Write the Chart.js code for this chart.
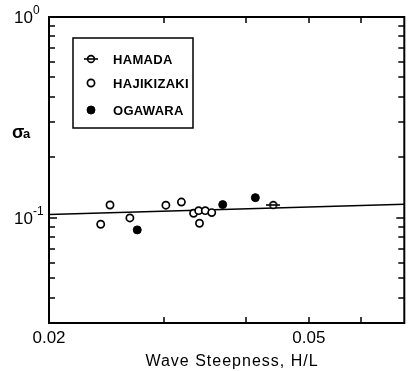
<!DOCTYPE html>
<html>
<head>
<meta charset="utf-8">
<script src="https://cdn.jsdelivr.net/npm/chart.js@4"></script>
<style>
  html, body { margin: 0; padding: 0; background: #fff; }
  canvas { display: block; }
</style>
</head>
<body>
<canvas id="steepness" width="410" height="371"></canvas>
<script>
// H/L and sigma_a for each site
const hamadaX = [0.0441];
const hamadaY = [0.116];
const hajikizakiX = [0.0248, 0.0240, 0.0266, 0.0302, 0.0319, 0.0333, 0.0339, 0.0347, 0.0355, 0.0340];
const hajikizakiY = [0.116, 0.093, 0.100, 0.1157, 0.120, 0.1055, 0.1087, 0.1087, 0.1063, 0.0941];
const ogawaraX = [0.0273, 0.0369, 0.0414];
const ogawaraY = [0.0872, 0.1165, 0.1262];

// fitted line, end points
const fitX = [0.02, 0.07];
const fitY = [0.104, 0.117];

// axis ticks
const xTicks = [0.03, 0.04, 0.05, 0.06];
const xLabels = [0.02, 0.05];
const yMajor = [1, 0.1];
const yMinor = [0.9, 0.8, 0.7, 0.6, 0.5, 0.4, 0.3, 0.2, 0.09, 0.08, 0.07, 0.06, 0.05, 0.04];

const FONT = '"Liberation Sans", Arial, sans-serif';

function pts(xs, ys) {
  return xs.map((x, i) => ({ x: x, y: ys[i] }));
}

// circle with a bar through it
function barCircle() {
  const c = document.createElement('canvas');
  c.width = 14; c.height = 10;
  const g = c.getContext('2d');
  g.strokeStyle = '#000';
  g.lineWidth = 1.6;
  g.beginPath();
  g.moveTo(0, 5); g.lineTo(14, 5);
  g.stroke();
  g.fillStyle = '#fff';
  g.beginPath();
  g.arc(7, 5, 3.4, 0, Math.PI * 2);
  g.fill();
  g.stroke();
  g.beginPath();
  g.moveTo(3, 5); g.lineTo(11, 5);
  g.stroke();
  return c;
}

const hamadaStyle = { pointStyle: barCircle(), radius: 4, borderWidth: 0, rotation: 0 };
const hajiStyle = { pointStyle: 'circle', radius: 3.6, borderWidth: 1.7, rotation: 0 };
const ogaStyle = { pointStyle: 'circle', radius: 4, borderWidth: 1, rotation: 0 };

const legendRows = [
  { text: 'HAMADA', style: hamadaStyle, fill: '#fff', y: 59 },
  { text: 'HAJIKIZAKI', style: hajiStyle, fill: '#fff', y: 83 },
  { text: 'OGAWARA', style: ogaStyle, fill: '#000', y: 110 }
];

const frame = {
  id: 'frame',
  afterDraw(chart) {
    const ctx = chart.ctx;
    const a = chart.chartArea;
    const xs = chart.scales.x, ys = chart.scales.y;
    ctx.save();
    ctx.strokeStyle = '#000';
    ctx.lineWidth = 2;
    ctx.strokeRect(a.left, a.top, a.right - a.left, a.bottom - a.top);

    // inward ticks on all four sides
    ctx.lineWidth = 1.5;
    ctx.beginPath();
    xTicks.forEach(v => {
      const px = Math.round(xs.getPixelForValue(v));
      ctx.moveTo(px, a.bottom); ctx.lineTo(px, a.bottom - 6);
      ctx.moveTo(px, a.top); ctx.lineTo(px, a.top + 6);
    });
    yMinor.forEach(v => {
      const py = Math.round(ys.getPixelForValue(v));
      ctx.moveTo(a.left, py); ctx.lineTo(a.left + 6, py);
      ctx.moveTo(a.right, py); ctx.lineTo(a.right - 6, py);
    });
    yMajor.forEach(v => {
      const py = Math.round(ys.getPixelForValue(v));
      ctx.moveTo(a.left, py); ctx.lineTo(a.left + 8, py);
      ctx.moveTo(a.right, py); ctx.lineTo(a.right - 8, py);
    });
    ctx.stroke();

    // tick labels
    ctx.fillStyle = '#000';
    ctx.font = '17px ' + FONT;
    ctx.textAlign = 'center';
    ctx.textBaseline = 'alphabetic';
    xLabels.forEach(v => {
      ctx.fillText(String(v), xs.getPixelForValue(v), 343);
    });
    yMajor.forEach(v => {
      const py = ys.getPixelForValue(v);
      const exp = Math.round(Math.log10(v));
      ctx.textAlign = 'left';
      ctx.font = '17px ' + FONT;
      ctx.fillText('10', 14, py + 6);
      ctx.font = '12px ' + FONT;
      ctx.fillText(String(exp), 33, py - 3);
    });

    // axis titles
    ctx.textAlign = 'center';
    ctx.font = '16px ' + FONT;
    ctx.letterSpacing = '1px';
    ctx.fillText('Wave Steepness, H/L', 232, 366);
    ctx.letterSpacing = '0px';
    ctx.textAlign = 'left';
    ctx.font = 'bold 18px ' + FONT;
    ctx.fillText('σ', 12, 138);
    ctx.font = 'bold 13px ' + FONT;
    ctx.fillText('a', 23, 138);

    // legend
    ctx.fillStyle = '#fff';
    ctx.fillRect(73, 38, 120, 90);
    ctx.lineWidth = 1.5;
    ctx.strokeRect(73, 38, 120, 90);
    legendRows.forEach(r => {
      ctx.fillStyle = r.fill;
      ctx.strokeStyle = '#000';
      ctx.lineWidth = r.style.borderWidth;
      Chart.helpers.drawPoint(ctx, r.style, 91, r.y);
      ctx.fillStyle = '#000';
      ctx.font = 'bold 13px ' + FONT;
      ctx.letterSpacing = '0.3px';
      ctx.textBaseline = 'middle';
      ctx.fillText(r.text, 113, r.y + 1);
    });
    ctx.restore();
  }
};

new Chart(document.getElementById('steepness'), {
  type: 'scatter',
  data: {
    datasets: [
      {
        label: 'HAMADA',
        data: pts(hamadaX, hamadaY),
        pointStyle: hamadaStyle.pointStyle,
        pointRadius: 4,
        order: 0
      },
      {
        label: 'HAJIKIZAKI',
        data: pts(hajikizakiX, hajikizakiY),
        pointStyle: 'circle',
        pointRadius: hajiStyle.radius,
        pointBorderWidth: hajiStyle.borderWidth,
        pointBackgroundColor: '#fff',
        pointBorderColor: '#000',
        order: 0
      },
      {
        label: 'OGAWARA',
        data: pts(ogawaraX, ogawaraY),
        pointStyle: 'circle',
        pointRadius: ogaStyle.radius,
        pointBorderWidth: 1,
        pointBackgroundColor: '#000',
        pointBorderColor: '#000',
        order: 0
      },
      {
        label: 'fit',
        data: pts(fitX, fitY),
        showLine: true,
        pointRadius: 0,
        borderColor: '#000',
        borderWidth: 1.4,
        order: 5
      }
    ]
  },
  options: {
    responsive: false,
    animation: false,
    layout: { padding: { left: 49, top: 17, right: 2, bottom: 48 } },
    plugins: { legend: { display: false }, tooltip: { enabled: false } },
    scales: {
      x: { type: 'logarithmic', min: 0.02, max: 0.07, display: false },
      y: { type: 'logarithmic', min: 0.03, max: 1, display: false }
    }
  },
  plugins: [frame]
});
</script>
</body>
</html>
